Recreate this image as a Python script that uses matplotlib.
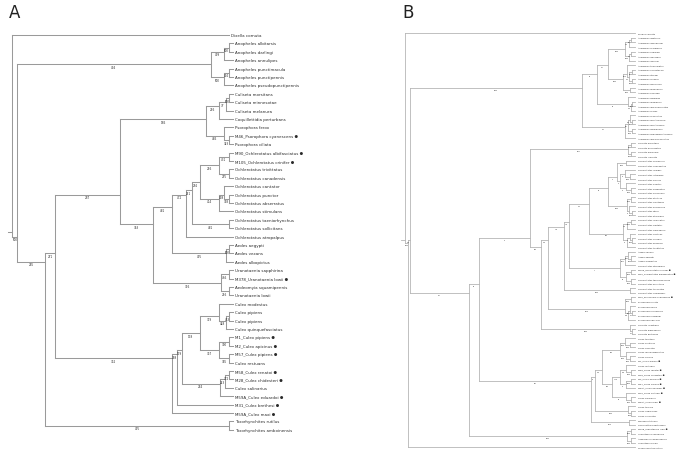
import matplotlib
matplotlib.use('Agg')
import matplotlib.pyplot as plt
from matplotlib.collections import LineCollection

# ---------------- Panel A data ----------------
leaves_A = [
    'Dixella cornuta', 'Anopheles albitarsis', 'Anopheles darlingi', 'Anopheles annulipes',
    'Anopheles punctimacula', 'Anopheles punctipennis', 'Anopheles pseudopunctipennis',
    'Culiseta morsitans', 'Culiseta minnesotae', 'Culiseta melanura', 'Coquillettidia perturbans',
    'Psorophora ferox', 'M46_Psorophora cyanescens ●', 'Psorophora ciliata',
    'M90_Ochlerotatus albifasciatus ●', 'M105_Ochlerotatus crinifer ●', 'Ochlerotatus trivittatus',
    'Ochlerotatus canadensis', 'Ochlerotatus cantator', 'Ochlerotatus punctor',
    'Ochlerotatus abserratus', 'Ochlerotatus stimulans', 'Ochlerotatus taeniorhynchus',
    'Ochlerotatus sollicitans', 'Ochlerotatus atropalpus', 'Aedes aegypti', 'Aedes vexans',
    'Aedes albopictus', 'Uranotaenia sapphirina', 'M378_Uranotaenia lowii ●',
    'Aedeomyia squamipennis', 'Uranotaenia lowii', 'Culex modestus', 'Culex pipiens',
    'Culex pipiens', 'Culex quinquefasciatus', 'M1_Culex pipiens ●', 'M2_Culex apicinus ●',
    'M57_Culex pipiens ●', 'Culex restuans', 'M58_Culex renatoi ●', 'M28_Culex chidesteri ●',
    'Culex salinarius', 'M59A_Culex eduardoi ●', 'M31_Culex brethesi ●', 'M59A_Culex maxi ●',
    'Toxorhynchites rutilus', 'Toxorhynchites amboinensis',
]
tipx_A = [229] + [233] * 47
nodes_A = ['root', 'n1', 'anoph', 'an1', 'an1a', 'an2', 'an2a', 'n2', 'tox', 'n3', 'n4',
           'csp', 'cc', 'cs', 'cs1', 'pso', 'pso1', 'n5', 'ura', 'ura1', 'ura2', 'n6', 'aed',
           'aed1', 'n7', 'n8', 'och5', 'n9', 'och1', 'och1a', 'och1b', 'och2', 'och2a', 'och2b',
           'cul', 'c1', 'c2', 'c3', 'c5', 'c7', 'c7a', 'c6', 'c6a', 'c6b', 'c4', 'c8', 'c8a']
children_A = [[0, 'n1'], ['anoph', 'n2'], ['an1', 'an2'], ['an1a', 3], [1, 2], ['an2a', 6], [4, 5],
              ['n3', 'tox'], [46, 47], ['n4', 'cul'], ['csp', 'n5'],
              ['cc', 'pso'], ['cs', 10], ['cs1', 9], [7, 8], [11, 'pso1'], [12, 13],
              ['n6', 'ura'], ['ura1', 'ura2'], [28, 29], [30, 31], ['n7', 'aed'], ['aed1', 27],
              [25, 26], ['n8', 24], ['n9', 'och5'], [22, 23], ['och1', 'och2'], ['och1a', 'och1b'],
              [14, 15], [16, 17], ['och2a', 21], [18, 'och2b'], [19, 20],
              ['c1', 45], ['c2', 44], ['c3', 'c4'], ['c5', 'c6'], [32, 'c7'], ['c7a', 35], [33, 34],
              ['c6a', 'c6b'], [36, 37], [38, 39], ['c8', 43], ['c8a', 42], [40, 41]]
depth_A = [12.3, 17.3, 210.7, 224, 228.7, 224, 228.7, 45.3, 228.7, 54.7, 120,
           206, 219, 226, 228.7, 224, 228.7, 153.3, 221, 228.7, 228.7, 172.3, 226,
           228.7, 186, 191.7, 228.7, 200, 219.3, 228.7, 228.7, 219.3, 224, 228.7,
           172.3, 177.3, 181.7, 200, 219.3, 226, 228.7, 219.3, 228.7, 228.7, 220, 224.5, 228.7]
support_A = ['', '500', '494', '499', '500', '500', '492', '265', '495', '271', '287',
             '186', '236', '77', '500', '486', '323', '363', '396', '466', '216', '481', '495',
             '500', '472', '211', '481', '292', '236', '431', '275', '414', '498', '358',
             '332', '238', '179', '178', '379', '448', '453', '337', '390', '365', '264', '243', '372']

# ---------------- Panel B data ----------------
leaves_B = [
    'Dixella cornuta',
    'Anopheles albitarsis', 'Anopheles deaneorum', 'Anopheles marajoara', 'Anopheles oswaldoi',
    'Anopheles aquasalis', 'Anopheles darlingi', 'Anopheles triannulatus', 'Anopheles nuneztovari',
    'Anopheles strodei', 'Anopheles rondoni', 'Anopheles benarrochi', 'Anopheles braziliensis',
    'Anopheles evansae', 'Anopheles gambiae', 'Anopheles arabiensis', 'Anopheles quadriannulatus',
    'Anopheles merus', 'Anopheles maculatus', 'Anopheles punctimacula', 'Anopheles punctipennis',
    'Anopheles perplexens', 'Anopheles pseudopunctipennis', 'Anopheles quadrimaculatus',
    'Culiseta morsitans', 'Culiseta minnesotae', 'Culiseta melanura', 'Culiseta inornata',
    'Ochlerotatus communis', 'Ochlerotatus hexodontus', 'Ochlerotatus impiger',
    'Ochlerotatus intrudens', 'Ochlerotatus pionips', 'Ochlerotatus punctor',
    'Ochlerotatus abserratus', 'Ochlerotatus provocans', 'Ochlerotatus sticticus',
    'Ochlerotatus diantaeus', 'Ochlerotatus excrucians', 'Ochlerotatus fitchii',
    'Ochlerotatus stimulans', 'Ochlerotatus implicatus', 'Ochlerotatus cantator',
    'Ochlerotatus canadensis', 'Ochlerotatus decticus', 'Ochlerotatus dorsalis',
    'Ochlerotatus spencerii', 'Ochlerotatus trivittatus', 'Aedes vexans', 'Aedes aegypti',
    'Aedes albopictus', 'Ochlerotatus atropalpus', 'M105_Ochlerotatus crinifer ●',
    'M90_Ochlerotatus albifasciatus ●', 'Ochlerotatus taeniorhynchus', 'Ochlerotatus sollicitans',
    'Ochlerotatus triseriatus', 'Ochlerotatus hendersoni', 'M46_Psorophora cyanescens ●',
    'Psorophora ciliata', 'Psorophora ferox', 'Psorophora columbiae', 'Psorophora howardii',
    'Psorophora discolor', 'Culiseta impatiens', 'Culiseta alaskaensis', 'Culiseta particeps',
    'Culex territans', 'Culex erraticus', 'Culex peccator', 'Culex quinquefasciatus',
    'Culex pipiens', 'M1_Culex pipiens ●', 'Culex restuans', 'M58_Culex renatoi ●',
    'M28_Culex chidesteri ●', 'M2_Culex apicinus ●', 'M57_Culex pipiens ●',
    'M59A_Culex eduardoi ●', 'M31_Culex brethesi ●', 'Culex salinarius', 'M59A_Culex maxi ●',
    'Culex tarsalis', 'Culex nigripalpus', 'Culex coronator', 'Mansonia titillans',
    'Coquillettidia perturbans', 'M378_Uranotaenia lowii ●', 'Uranotaenia sapphirina',
    'Aedeomyia squamipennis', 'Uranotaenia lowii', 'Toxorhynchites rutilus',
]
tipx_B = [635] * 92
nodes_B = ['rB', 'b1', 'b2', 'anB', 'na1', 'na3', 'na5', 'na5a', 'na5a1', 'na5b', 'na5b1',
           'na6', 'na6a', 'na6c', 'na6d', 'na6e', 'na6b', 'na4', 'na4a', 'na4b',
           'na2', 'na2a', 'na2b', 'na2d', 'na2c',
           'b3', 'uraB', 'ur1', 'ur2', 'b4', 'b6', 'culis', 'cu1', 'cu2', 'b7', 'cx3', 'cx3a',
           'b8', 'pso6', 'ps1', 'ps2', 'ps3', 'ps4', 'b9', 'oc2', 'b10', 'oc8', 'oc8a', 'oc8c',
           'oc8e', 'oc8b', 'oc8f', 'oc8g', 'b11', 'oc7', 'oc7a', 'oc7c', 'oc7b', 'oc7d', 'oc7e',
           'b12', 'oc5', 'oc5a', 'oc5b', 'oc5c', 'b13', 'b13a', 'b13b', 'b13c', 'b13e', 'b13d',
           'b13f', 'culB', 'cB5', 'cB1', 'cB6', 'cB6a', 'cB2', 'cB3', 'cB3a', 'cB3c', 'cB3b',
           'cB3d', 'cB4', 'cB4a', 'cB4c', 'cB4e', 'cB4d', 'cB4f', 'cB4b', 'cB4g']
children_B = [[0, 'b1'], ['b2', 91], ['anB', 'b3'], ['na1', 'na2'], ['na3', 'na4'], ['na5', 'na6'],
              ['na5a', 'na5b'], ['na5a1', 3], [1, 2], ['na5b1', 6], [4, 5],
              ['na6a', 'na6b'], [7, 'na6c'], ['na6d', 'na6e'], [8, 9], [10, 11], [12, 13],
              [14, 'na4a'], ['na4b', 17], [15, 16],
              ['na2a', 23], ['na2b', 'na2c'], [18, 'na2d'], [19, 20], [21, 22],
              ['b4', 'uraB'], ['ur1', 'ur2'], [87, 88], [89, 90], ['b6', 'culB'], ['culis', 'b7'],
              ['cu1', 'cu2'], [24, 25], [26, 27], ['b8', 'cx3'], [64, 'cx3a'], [65, 66],
              ['b9', 'pso6'], ['ps1', 'ps2'], [58, 59], ['ps3', 63], [60, 'ps4'], [61, 62],
              ['b10', 'oc2'], [56, 57], ['b11', 'oc8'], ['oc8a', 'oc8b'], ['oc8c', 51], [48, 'oc8e'],
              [49, 50], ['oc8f', 'oc8g'], [52, 53], [54, 55], ['b12', 'oc7'], ['oc7a', 'oc7b'],
              ['oc7c', 43], [41, 42], ['oc7d', 47], [44, 'oc7e'], [45, 46],
              ['b13', 'oc5'], ['oc5a', 'oc5b'], [36, 37], [38, 'oc5c'], [39, 40],
              ['b13a', 'b13b'], [28, 29], ['b13c', 'b13d'], [30, 'b13e'], [31, 32], [33, 'b13f'],
              [34, 35], ['cB1', 'cB5'], [85, 86], ['cB2', 'cB6'], [82, 'cB6a'], [83, 84],
              ['cB3', 'cB4'], ['cB3a', 'cB3b'], [67, 'cB3c'], [68, 69], [70, 'cB3d'], [71, 72],
              ['cB4a', 'cB4b'], ['cB4c', 'cB4d'], [73, 'cB4e'], [74, 75], ['cB4f', 78], [76, 77],
              [79, 'cB4g'], [80, 81]]
depth_B = [405, 407.7, 410, 581.7, 597.3, 607.7, 625, 628.7, 631, 628.7, 631,
           622.7, 626.7, 629, 632, 632, 630, 628, 630.7, 632,
           625, 627.7, 630, 632, 632,
           469, 627, 631, 631, 479.3, 530, 628, 631, 631, 540.7, 630, 632,
           548.3, 625, 631, 628, 630, 632, 564, 630, 569.3, 620, 625, 628,
           631, 626, 631, 631, 589.3, 622.7, 627, 631, 627, 629.5, 632,
           607.7, 626.7, 631, 629, 632, 616.7, 626, 620, 625, 630, 626,
           631, 591, 629, 594.5, 628, 631, 601.7, 620, 625, 630, 626,
           630, 612, 620, 626, 631, 626, 631, 626, 631]
support_B = ['', '1000', '998', '1000', '79', '997', '1000', '996', '1000', '1000', '998',
             '1003', '1013', '962', '1000', '1000', '1000', '97', '990', '1000',
             '991', '877', '985', '1000', '1000',
             '987', '1003', '1000', '1000', '97', '96', '1017', '1000', '1000', '100', '1000', '997',
             '995', '1016', '1000', '988', '1000', '997', '718', '1000', '718', '7', '1011', '1001',
             '1000', '74', '1000', '1000', '664', '100', '995', '1000', '92', '89', '1000',
             '76', '1000', '1000', '94', '1000', '4', '1000', '9', '98', '1000', '95',
             '1000', '101', '1013', '85', '1000', '1000', '955', '199', '1000', '1000', '1000',
             '1000', '109', '1115', '988', '1000', '92', '1000', '74', '1000']

# ---------------- drawing ----------------
W, H = 683, 456
fig = plt.figure(figsize=(W / 100, H / 100), dpi=100)
fig.patch.set_facecolor('white')


def draw_tree(ax, leaves, tipx, nodes, children, depth, support, leaf_fs, sup_fs,
              lc, lw, sup_dy, gap, stub):
    xd = dict(zip(nodes, depth))
    cd = dict(zip(nodes, children))
    parent = {}
    for n, ch in zip(nodes, children):
        for c in ch:
            parent[c] = n
    spans = {}

    def span(n):
        if isinstance(n, int):
            return (n, n)
        if n not in spans:
            s = [span(c) for c in cd[n]]
            spans[n] = (min(a for a, b in s), max(b for a, b in s))
        return spans[n]

    def yp(n):
        a, b = span(n)
        return (a + b) / 2.0

    def xp(n):
        return tipx[n] if isinstance(n, int) else xd[n]

    segs = []
    for n in nodes:
        ys = [yp(c) for c in cd[n]]
        segs.append([(xd[n], min(ys)), (xd[n], max(ys))])
        for c in cd[n]:
            segs.append([(xd[n], yp(c)), (xp(c), yp(c))])
    root = nodes[0]
    segs.append([(xd[root] - stub, yp(root)), (xd[root], yp(root))])
    ax.add_collection(LineCollection(segs, colors=lc, linewidths=lw, capstyle='projecting'))
    for i, name in enumerate(leaves):
        ax.text(tipx[i] + gap, i, name, fontsize=leaf_fs, va='center', ha='left',
                color='#2a2a2a')
    for n, s in zip(nodes, support):
        if not s or n not in parent:
            continue
        xm = (xd[parent[n]] + xd[n]) / 2.0
        ax.text(xm, yp(n) + sup_dy, s, fontsize=sup_fs, va='center', ha='center',
                color='#2a2a2a')


# Panel A axes: leaf rows from y=36px, spacing 8.4px
axA = fig.add_axes([0, 0, 340 / W, 1])
y0A, dyA = 36.0, 8.4
axA.set_xlim(0, 340)
axA.set_ylim((H - y0A) / dyA, -y0A / dyA)
axA.axis('off')
draw_tree(axA, leaves_A, tipx_A, nodes_A, children_A, depth_A, support_A,
          leaf_fs=2.9, sup_fs=2.0, lc='#9a9a9a', lw=0.75, sup_dy=2.7 / dyA, gap=2.0, stub=4)
axA.text(9, -y0A / dyA + 13 / dyA, 'A', fontsize=12, va='center', ha='left', color='#222222')

# Panel B axes: leaf rows from y=34.3px, spacing 4.55px
axB = fig.add_axes([340 / W, 0, (W - 340) / W, 1])
y0B, dyB = 34.3, 4.55
axB.set_xlim(340, 683)
axB.set_ylim((H - y0B) / dyB, -y0B / dyB)
axB.axis('off')
draw_tree(axB, leaves_B, tipx_B, nodes_B, children_B, depth_B, support_B,
          leaf_fs=1.6, sup_fs=1.1, lc='#b5b5b5', lw=0.6, sup_dy=1.5 / dyB, gap=2.5, stub=4)
axB.text(402, -y0B / dyB + 13 / dyB, 'B', fontsize=12, va='center', ha='left', color='#222222')

fig.savefig('out.png', dpi=100, facecolor='white')
